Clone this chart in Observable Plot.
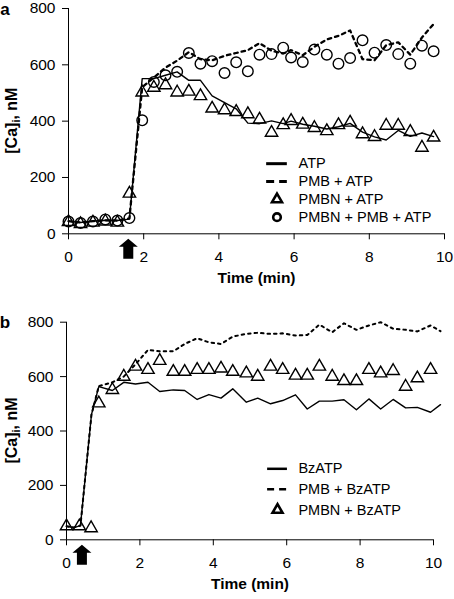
<!DOCTYPE html>
<html><head><meta charset="utf-8">
<script src="https://cdn.jsdelivr.net/npm/d3@7"></script>
<script src="https://cdn.jsdelivr.net/npm/@observablehq/plot@0.6"></script>
<style>
body{margin:0;background:#fff;}
#chart{width:454px;}
#chart svg{display:block;}
</style></head><body><div id="chart"></div>
<script>
// ---------- Panel a ----------
const timeA = [0, 0.32, 0.65, 0.98, 1.30, 1.62, 1.96, 2.27, 2.58, 2.89, 3.20, 3.51, 3.82, 4.15, 4.46, 4.77, 5.08, 5.40, 5.71, 5.92, 6.23, 6.54, 6.87, 7.18, 7.49, 7.82, 8.14, 8.45, 8.77, 9.09, 9.40, 9.71];
const atpA = [45, 40, 45, 48, 47, 52, 551, 551, 563, 575, 545, 545, 490, 466, 444, 393, 391, 401, 391, 400, 389, 382, 372, 380, 392, 361, 344, 333, 367, 346, 358, 345];
const pmbAtpA = [45, 40, 45, 48, 47, 55, 520, 555, 590, 615, 645, 620, 616, 632, 642, 652, 677, 650, 640, 652, 634, 664, 690, 703, 722, 620, 616, 670, 680, 636, 697, 745];
const pmbnAtpA = [42, 35, 40, 44, 40, 143, 502, 519, 528, 502, 505, 489, 445, 439, 433, 425, 406, 359, 386, 401, 388, 376, 365, 386, 395, 354, 344, 384, 384, 362, 306, 342];
const pmbnPmbAtpA = [44, 38, 44, 51, 47, 56, 403, 539, 563, 575, 642, 604, 613, 571, 609, 577, 636, 638, 661, 626, 610, 654, 636, 604, 624, 687, 643, 670, 638, 604, 668, 648];
const labelsA = ["ATP", "PMB + ATP", "PMBN + ATP", "PMBN + PMB + ATP"];
const arrowTimeA = 1.59;

// ---------- Panel b ----------
const timeB = [0, 0.2, 0.38, 0.68, 0.88, 1.25, 1.56, 1.88, 2.22, 2.54, 2.91, 3.22, 3.56, 3.88, 4.21, 4.53, 4.90, 5.21, 5.56, 5.89, 6.24, 6.56, 6.89, 7.24, 7.56, 7.90, 8.24, 8.56, 8.90, 9.24, 9.56, 9.92, 10.19];
const bzatpB = [50, 45, 52, 460, 563, 549, 579, 573, 579, 545, 551, 549, 516, 534, 521, 555, 506, 521, 500, 512, 533, 481, 510, 510, 515, 478, 518, 481, 516, 485, 487, 469, 497];
const pmbBzatpB = [50, 45, 52, 460, 565, 579, 600, 645, 698, 693, 693, 720, 741, 726, 720, 747, 757, 761, 757, 759, 751, 753, 791, 763, 796, 772, 788, 800, 776, 772, 766, 788, 767];
const timeBTri = [0, 0.35, 0.67, 0.88, 1.25, 1.56, 1.88, 2.22, 2.54, 2.91, 3.22, 3.56, 3.88, 4.21, 4.53, 4.90, 5.21, 5.56, 5.89, 6.24, 6.56, 6.89, 7.24, 7.56, 7.90, 8.24, 8.56, 8.90, 9.24, 9.56, 9.92];
const pmbnBzatpB = [50, 50, 43, 502, 551, 600, 637, 625, 658, 618, 618, 625, 625, 630, 618, 612, 600, 637, 625, 604, 604, 637, 600, 584, 584, 625, 612, 621, 563, 594, 625];
const labelsB = ["BzATP", "PMB + BzATP", "PMBN + BzATP"];
const arrowTimeB = 0.42;

const xTicks = [0, 2, 4, 6, 8, 10];
const yTicks = [0, 200, 400, 600, 800];

// ---------- helpers ----------
const FONT = "'Liberation Sans', Arial, Helvetica, sans-serif";
const arrowSymbol = {
  draw(ctx) {
    ctx.moveTo(0, -10);
    ctx.lineTo(9.5, -2);
    ctx.lineTo(5, -2);
    ctx.lineTo(5, 10);
    ctx.lineTo(-5, 10);
    ctx.lineTo(-5, -2);
    ctx.lineTo(-9.5, -2);
    ctx.closePath();
  }
};

function baseMarks(arrowTime) {
  return [
    Plot.axisX({ticks: xTicks, tickSize: 6, tickPadding: 11, label: null, fontSize: 15.5}),
    Plot.axisY({ticks: yTicks, tickSize: 6, tickPadding: 7, label: null, fontSize: 15.5}),
    Plot.ruleX([0], {stroke: "#000", strokeWidth: 1}),
    Plot.ruleY([0], {stroke: "#000", strokeWidth: 1}),
    Plot.text(["Time (min)"], {frameAnchor: "bottom", dy: 49, text: d => d, fontWeight: "bold", fontSize: 15.5, fill: "#000"}),
    Plot.dot([arrowTime], {x: d => d, frameAnchor: "bottom", dy: 15, symbol: arrowSymbol, fill: "#000", stroke: "none"})
  ];
}

function addDecor(svg, letter, cy) {
  const s = d3.select(svg);
  s.append("text").attr("x", 5).attr("y", letter === "a" ? 15 : 28)
    .attr("font-family", FONT).attr("font-weight", "bold").attr("font-size", 17).text(letter);
  const t = s.append("text")
    .attr("transform", `translate(11,${cy}) rotate(-90)`)
    .attr("text-anchor", "middle").attr("dy", "0.35em")
    .attr("font-family", FONT).attr("font-weight", "bold").attr("font-size", 16).attr("fill", "#000");
  t.append("tspan").text("[Ca]");
  t.append("tspan").attr("font-size", 11).attr("dy", 3).text("i");
  t.append("tspan").attr("dy", -3).text(", nM");
}

// ---------- Panel a ----------
const rowsA = timeA.map((t, i) => ({t, atp: atpA[i], pmb: pmbAtpA[i], tri: pmbnAtpA[i], circ: pmbnPmbAtpA[i]}));
const legA = labelsA.map((label, i) => ({label, y: 249 - i * 63.3}));
const legAx0 = 5.27, legAx1 = 5.82, legAtx = 6.12, legAxm = (legAx0 + legAx1) / 2;

const plotA = Plot.plot({
  width: 454, height: 300,
  marginTop: 8, marginBottom: 66.7, marginLeft: 68, marginRight: 10,
  style: {fontFamily: FONT, fontSize: "15px", color: "#000", background: "#fff", overflow: "visible"},
  x: {domain: [0, 10]},
  y: {domain: [0, 800]},
  marks: [
    ...baseMarks(arrowTimeA),
    Plot.lineY(rowsA, {x: "t", y: "atp", stroke: "#000", strokeWidth: 1.4}),
    Plot.lineY(rowsA, {x: "t", y: "pmb", stroke: "#000", strokeWidth: 2.3, strokeDasharray: "3.5,4"}),
    Plot.dot(rowsA, {x: "t", y: "tri", symbol: "triangle", r: 4.6, stroke: "#000", strokeWidth: 1.4, fill: "none"}),
    Plot.dot(rowsA, {x: "t", y: "circ", symbol: "circle", r: 5.3, stroke: "#000", strokeWidth: 1.4, fill: "none"}),
    // legend
    Plot.ruleY([legA[0]], {y: "y", x1: legAx0, x2: legAx1, stroke: "#000", strokeWidth: 3}),
    Plot.ruleY([legA[1]], {y: "y", x1: legAx0, x2: legAx1, stroke: "#000", strokeWidth: 3, strokeDasharray: "8,5"}),
    Plot.dot([legA[2]], {x: legAxm, y: "y", symbol: "triangle", r: 3.7, stroke: "#000", strokeWidth: 2.6, fill: "none"}),
    Plot.dot([legA[3]], {x: legAxm, y: "y", symbol: "circle", r: 3.8, stroke: "#000", strokeWidth: 2.6, fill: "none"}),
    Plot.text(legA, {x: legAtx, y: "y", text: "label", textAnchor: "start", fontSize: 14.5, fill: "#000"})
  ]
});
addDecor(plotA, "a", (8 + 233.3) / 2);

// ---------- Panel b ----------
const rowsB = timeB.map((t, i) => ({t, bz: bzatpB[i], pmb: pmbBzatpB[i]}));
const triB = timeBTri.map((t, i) => ({t, v: pmbnBzatpB[i]}));
const legB = labelsB.map((label, i) => ({label, y: 261 - i * 75.5}));
const legBx0 = 5.48, legBx1 = 6.02, legBtx = 6.32, legBxm = (legBx0 + legBx1) / 2;

const plotB = Plot.plot({
  width: 454, height: 299,
  marginTop: 21.7, marginBottom: 59.7, marginLeft: 66, marginRight: 21,
  style: {fontFamily: FONT, fontSize: "15px", color: "#000", background: "#fff", overflow: "visible"},
  x: {domain: [0, 10]},
  y: {domain: [0, 800]},
  marks: [
    ...baseMarks(arrowTimeB),
    Plot.lineY(rowsB, {x: "t", y: "bz", stroke: "#000", strokeWidth: 1.4}),
    Plot.lineY(rowsB, {x: "t", y: "pmb", stroke: "#000", strokeWidth: 2, strokeDasharray: "2.5,4"}),
    Plot.dot(triB, {x: "t", y: "v", symbol: "triangle", r: 4.6, stroke: "#000", strokeWidth: 1.4, fill: "none"}),
    // legend
    Plot.ruleY([legB[0]], {y: "y", x1: legBx0, x2: legBx1, stroke: "#000", strokeWidth: 2.5}),
    Plot.ruleY([legB[1]], {y: "y", x1: legBx0, x2: legBx1, stroke: "#000", strokeWidth: 2.5, strokeDasharray: "7,5"}),
    Plot.dot([legB[2]], {x: legBxm, y: "y", symbol: "triangle", r: 3.7, stroke: "#000", strokeWidth: 2.6, fill: "none"}),
    Plot.text(legB, {x: legBtx, y: "y", text: "label", textAnchor: "start", fontSize: 14.5, fill: "#000"})
  ]
});
addDecor(plotB, "b", (21.7 + 239.3) / 2);

const chart = document.getElementById("chart");
chart.appendChild(plotA);
chart.appendChild(plotB);
</script>
</body></html>
